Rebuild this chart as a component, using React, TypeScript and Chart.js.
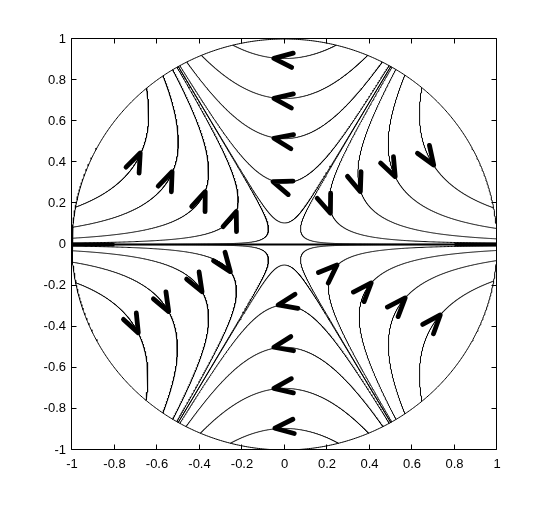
import { useEffect, useRef } from "react";
import { Chart, registerables } from "chart.js";

Chart.register(...registerables);

// Axis ticks
const xTicks = [-1, -0.8, -0.6, -0.4, -0.2, 0, 0.2, 0.4, 0.6, 0.8, 1];
const yTicks = [-1, -0.8, -0.6, -0.4, -0.2, 0, 0.2, 0.4, 0.6, 0.8, 1];

// Streamlines of the monkey-saddle flow dz/dt = conj(z)^2.
// Each streamline is given by its closest approach to the origin (r_min),
// grouped by the sector it lives in (sector centre angle in degrees).
const sectorAngles = [30, 90, 150, 210, 270, 330];
const levelsUpperRight = [0.095, 0.265, 0.435, 0.615, 0.8];
const levelsTop = [0.105, 0.3, 0.515, 0.71, 0.905];
const levelsUpperLeft = [0.095, 0.275, 0.45, 0.63, 0.805];
const levelsLowerLeft = [0.095, 0.285, 0.45, 0.635, 0.81];
const levelsBottom = [0.1, 0.295, 0.5, 0.7, 0.895];
const levelsLowerRight = [0.095, 0.26, 0.443, 0.616, 0.8];

// Separatrix along the real axis, and the spans where the bundle looks thick
const axisLineX = [-1, 1];
const axisThickSpans = [
  [-1, -0.8],
  [0.8, 1],
];

// Arrow-head tips (data coordinates)
const arrowX = [
  -0.05, -0.05, -0.05, -0.054,
  -0.045, -0.05, -0.05, -0.03,
  -0.679, -0.529, -0.373, -0.227,
  0.216, 0.357, 0.521, 0.702,
  -0.255, -0.388, -0.545, -0.688,
  0.247, 0.408, 0.568, 0.733,
];
const arrowY = [
  0.906, 0.711, 0.517, 0.306,
  -0.894, -0.7, -0.5, -0.294,
  0.445, 0.354, 0.257, 0.16,
  0.152, 0.257, 0.33, 0.387,
  -0.132, -0.23, -0.327, -0.43,
  -0.1, -0.187, -0.26, -0.343,
];

function streamline(rm: number, centerDeg: number) {
  const phi = (centerDeg * Math.PI) / 180;
  const dmax = Math.acos(Math.min(1, rm * rm * rm)) / 3;
  const pts: { x: number; y: number }[] = [];
  const N = 800;
  for (let i = 0; i <= N; i++) {
    const u = -1 + (2 * i) / N;
    const d = dmax * Math.sin((u * Math.PI) / 2);
    const c = Math.cos(3 * d);
    let r = rm / Math.cbrt(Math.max(c, 1e-12));
    if (r > 1) r = 1;
    pts.push({ x: r * Math.cos(phi + d), y: r * Math.sin(phi + d) });
  }
  return pts;
}

function circlePoints() {
  const pts: { x: number; y: number }[] = [];
  const N = 720;
  for (let i = 0; i <= N; i++) {
    const t = (2 * Math.PI * i) / N;
    pts.push({ x: Math.cos(t), y: Math.sin(t) });
  }
  return pts;
}

const FONT = { family: "'Liberation Sans', Arial, Helvetica, sans-serif", size: 13 };

const framePlugin = {
  id: "frame",
  afterDatasetsDraw(chart: any) {
    const { ctx, chartArea, scales } = chart;
    const { left, right, top, bottom } = chartArea;
    ctx.save();
    ctx.strokeStyle = "#000";
    ctx.lineWidth = 1;
    const L = Math.round(left) - 0.5;
    const R = Math.round(right) - 0.5;
    const T = Math.round(top) - 0.5;
    const B = Math.round(bottom) - 0.5;
    ctx.beginPath();
    ctx.rect(L, T, R - L, B - T);
    ctx.stroke();
    const tl = 5;
    ctx.beginPath();
    for (const v of xTicks) {
      const px = Math.round(scales.x.getPixelForValue(v)) - 0.5;
      ctx.moveTo(px, B);
      ctx.lineTo(px, B - tl);
      ctx.moveTo(px, T);
      ctx.lineTo(px, T + tl);
    }
    for (const v of yTicks) {
      const py = Math.round(scales.y.getPixelForValue(v)) - 0.5;
      ctx.moveTo(L, py);
      ctx.lineTo(L + tl, py);
      ctx.moveTo(R, py);
      ctx.lineTo(R - tl, py);
    }
    ctx.stroke();
    ctx.restore();
  },
};

const arrowPlugin = {
  id: "arrows",
  afterDatasetsDraw(chart: any) {
    const { ctx, scales } = chart;
    const xs = scales.x;
    const ys = scales.y;
    const kx = xs.getPixelForValue(1) - xs.getPixelForValue(0);
    const ky = ys.getPixelForValue(0) - ys.getPixelForValue(1);
    const len = 20;
    const half = (21 * Math.PI) / 180;
    ctx.save();
    ctx.strokeStyle = "#000";
    ctx.lineWidth = 4.8;
    ctx.lineCap = "round";
    ctx.lineJoin = "round";
    for (let i = 0; i < arrowX.length; i++) {
      const ax = arrowX[i];
      const ay = arrowY[i];
      const vx = ax * ax - ay * ay;
      const vy = -2 * ax * ay;
      let dx = vx * kx;
      let dy = -vy * ky;
      const n = Math.hypot(dx, dy) || 1;
      dx /= n;
      dy /= n;
      const bx = -dx;
      const by = -dy;
      const tx = xs.getPixelForValue(ax);
      const ty = ys.getPixelForValue(ay);
      const c = Math.cos(half);
      const s = Math.sin(half);
      const a1x = tx + len * (bx * c - by * s);
      const a1y = ty + len * (bx * s + by * c);
      const a2x = tx + len * (bx * c + by * s);
      const a2y = ty + len * (-bx * s + by * c);
      ctx.beginPath();
      ctx.moveTo(a1x, a1y);
      ctx.lineTo(tx, ty);
      ctx.lineTo(a2x, a2y);
      ctx.stroke();
    }
    ctx.restore();
  },
};

export default function App() {
  const ref = useRef<HTMLCanvasElement>(null);

  useEffect(() => {
    document.body.style.margin = "0";
    const canvas = ref.current;
    if (!canvas) return;

    const line = (data: { x: number; y: number }[], width: number) => ({
      data,
      borderColor: "#000",
      backgroundColor: "#000",
      borderWidth: width,
      pointRadius: 0,
      tension: 0,
      fill: false,
    });

    const datasets: any[] = [];
    datasets.push(line(circlePoints(), 1));
    const sectorLevels = [
      levelsUpperRight,
      levelsTop,
      levelsUpperLeft,
      levelsLowerLeft,
      levelsBottom,
      levelsLowerRight,
    ];
    sectorAngles.forEach((ang, k) => {
      for (const rm of sectorLevels[k]) datasets.push(line(streamline(rm, ang), 1));
    });
    datasets.push(line(axisLineX.map((x) => ({ x, y: 0 })), 2));
    for (const span of axisThickSpans) {
      datasets.push(line(span.map((x) => ({ x, y: 0 })), 4));
    }

    const chart = new Chart(canvas, {
      type: "line",
      data: { datasets },
      options: {
        responsive: false,
        animation: false,
        devicePixelRatio: 1,
        layout: { padding: { left: 0, top: 39, right: 52, bottom: 0 } },
        plugins: { legend: { display: false }, tooltip: { enabled: false } },
        scales: {
          x: {
            type: "linear",
            min: -1,
            max: 1,
            grid: { display: false, drawTicks: false },
            border: { display: false },
            afterBuildTicks: (s: any) => {
              s.ticks = xTicks.map((v) => ({ value: v }));
            },
            afterFit: (s: any) => {
              s.height = 56;
            },
            ticks: {
              padding: 7,
              font: FONT,
              color: "#000",
              maxRotation: 0,
              autoSkip: false,
              callback: (v: any) => String(Math.round(Number(v) * 10) / 10),
            },
          },
          y: {
            type: "linear",
            min: -1,
            max: 1,
            grid: { display: false, drawTicks: false },
            border: { display: false },
            afterBuildTicks: (s: any) => {
              s.ticks = yTicks.map((v) => ({ value: v }));
            },
            afterFit: (s: any) => {
              s.width = 72;
            },
            ticks: {
              padding: 6,
              font: FONT,
              color: "#000",
              autoSkip: false,
              callback: (v: any) => String(Math.round(Number(v) * 10) / 10),
            },
          },
        },
      } as any,
      plugins: [framePlugin, arrowPlugin],
    });
    return () => chart.destroy();
  }, []);

  return (
    <div style={{ position: "fixed", left: 0, top: 0 }}>
      <canvas ref={ref} width={549} height={506} style={{ display: "block" }} />
    </div>
  );
}
